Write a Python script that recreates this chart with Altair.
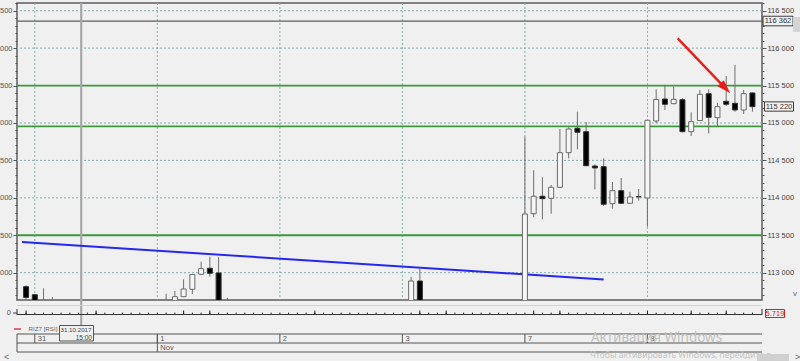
import altair as alt
import pandas as pd

# ---------------- data ----------------
# bar index: 0 = first hourly bar of 31 Oct, 14 bars per trading day
bar_idx = [-1, 0, 1, 2, 15, 16, 17, 18, 19, 20, 21, 22, 43, 44,
           56, 57, 58, 59, 60, 61, 62, 63, 64, 65, 66, 67, 68, 69,
           70, 71, 72, 73, 74, 75, 76, 77, 78, 79, 80, 81, 82]
opens = [112813, 112706, 112590, 112590, 112580, 112590, 112679, 112778, 112979, 113059, 112996, 112600, 112560, 112889,
         112560, 113788, 114021, 113994, 114141, 114603, 114929, 114884, 114425, 114416, 113922, 114096, 113927, 114015,
         113998, 115027, 115320, 115258, 115311, 114884, 115033, 115391, 115071, 115290, 115263, 115174, 115401]
highs = [112830, 112715, 112792, 112675, 112719, 112756, 112912, 112980, 113147, 113214, 113206, 112666, 112943, 113067,
         114817, 114368, 114274, 114172, 114920, 114942, 115151, 115013, 114448, 114528, 114212, 114265, 114082, 114118,
         115040, 115450, 115498, 115487, 115330, 115143, 115441, 115450, 115271, 115628, 115775, 115441, 115405]
lows = [112500, 112500, 112500, 112500, 112500, 112500, 112675, 112715, 112965, 112947, 112450, 112500, 112500, 112500,
        112500, 113740, 113713, 113788, 114130, 114528, 114648, 114425, 114114, 113891, 113855, 113920, 113922, 113962,
        113615, 114996, 115174, 115250, 114875, 114826, 115028, 114862, 114950, 115227, 115151, 115120, 115151]
closes = [112669, 112550, 112570, 112600, 112600, 112679, 112782, 112976, 113053, 112992, 112500, 112580, 112889, 112560,
          113784, 114021, 113989, 114141, 114603, 114920, 114876, 114429, 114399, 113914, 114096, 113927, 114011, 114015,
          115036, 115314, 115250, 115316, 114884, 115017, 115383, 115076, 115218, 115250, 115174, 115391, 115218]

grid_prices = [113000, 113500, 114000, 114500, 115000, 115500, 116000, 116500]
tick_prices = list(range(112700, 116601, 100))
day_idx = [0, 14, 28, 42, 56, 70]
day_labels = ["31", "1", "2", "3", "7", "8"]
month_idx = [14]
month_labels = ["Nov"]
green_levels = [115500, 114956, 113500]
dark_level = [116362]
dark_label = ["116 362"]
last_price = [115220]
last_label = ["115 220"]
trend_idx = [-1.465, 65.0]
trend_price = [113410, 112909]
arrow_idx = [73.46, 78.92]
arrow_price = [116131, 115463]
crosshair_idx = [5.3]
strip_idx = list(range(-1, 83))
strip_tall = [-1, 7, 17, 20, 32, 44, 47, 57, 60, 70, 75, 79]

X_DOMAIN = [-1.465, 82.52]
Y_DOMAIN = [112635, 116603]
W, H = 745, 297

xs = alt.Scale(domain=X_DOMAIN, nice=False, zero=False)
ys = alt.Scale(domain=Y_DOMAIN, nice=False, zero=False)
FONT = "Liberation Sans"


def X(f):
    return alt.X(f, type="quantitative", scale=xs, axis=None)


def Y(f, axis=None):
    return alt.Y(f, type="quantitative", scale=ys, axis=axis)


candles = pd.DataFrame({"idx": bar_idx, "open": opens, "high": highs, "low": lows, "close": closes})
grid_df = pd.DataFrame({"price": grid_prices})
days_df = pd.DataFrame({"idx": day_idx, "label": day_labels})
month_df = pd.DataFrame({"idx": month_idx, "label": month_labels})
green_df = pd.DataFrame({"price": green_levels})
dark_df = pd.DataFrame({"price": dark_level, "label": dark_label})
last_df = pd.DataFrame({"price": last_price, "label": last_label})
trend_df = pd.DataFrame({"idx": trend_idx, "price": trend_price})
arrow_df = pd.DataFrame({"idx": arrow_idx, "price": arrow_price})
head_df = pd.DataFrame({"idx": arrow_idx[-1:], "price": arrow_price[-1:]})
cross_df = pd.DataFrame({"idx": crosshair_idx})
strip_df = pd.DataFrame({"idx": strip_idx})
strip_tall_df = pd.DataFrame({"idx": strip_tall})
one = pd.DataFrame({"a": [0]})

GRID_C = "#80aeae"

left_axis = alt.Axis(
    orient="left", values=tick_prices, domain=False, grid=False, ticks=True,
    tickColor="#555", tickSize={"condition": {"test": "datum.value % 500 === 0", "value": 4}, "value": 2},
    labelExpr="datum.value % 500 === 0 ? slice(format(datum.value, 'd'), -3) : ''",
    labelFont=FONT, labelFontSize=7.5, labelColor="#555", labelPadding=1,
    labelOverlap=False, labelFlush=False, title=None)
right_axis = alt.Axis(
    orient="right", values=tick_prices, domain=False, grid=False, ticks=True,
    tickColor="#555", tickSize={"condition": {"test": "datum.value % 500 === 0", "value": 4}, "value": 2},
    labelExpr="datum.value % 500 === 0 ? replace(format(datum.value, ','), ',', ' ') : ''",
    labelFont=FONT, labelFontSize=7.5, labelColor="#444", labelPadding=1,
    labelOverlap=False, labelFlush=False, title=None)

# ---------------- price panel ----------------
hgrid = alt.Chart(grid_df).mark_rule(color=GRID_C, strokeDash=[2, 2], strokeWidth=1).encode(
    y=Y("price", left_axis))
vgrid = alt.Chart(days_df).mark_rule(color=GRID_C, strokeDash=[2, 2], strokeWidth=1).encode(
    x=X("idx"))
axis_r = alt.Chart(grid_df).mark_rule(opacity=0).encode(y=Y("price", right_axis))
green = alt.Chart(green_df).mark_rule(color="#3b993b", strokeWidth=1.8).encode(y=Y("price"))
dark = alt.Chart(dark_df).mark_rule(color="#5e5e5e", strokeWidth=1.3).encode(y=Y("price"))
cross = alt.Chart(cross_df).mark_rule(color="#a8a8a8", strokeWidth=2.2).encode(
    x=X("idx"), y=alt.value(0), y2=alt.value(323))
trend = alt.Chart(trend_df).mark_line(color="#2626ee", strokeWidth=2, clip=True).encode(
    x=X("idx"), y=Y("price"))
wicks = alt.Chart(candles).mark_rule(color="#6e6e6e", strokeWidth=1, clip=True).encode(
    x=X("idx"), y=Y("low"), y2="high")
bodies = alt.Chart(candles).mark_bar(size=5, strokeWidth=1, clip=True).encode(
    x=X("idx"), y=Y("open"), y2="close",
    fill=alt.condition("datum.close <= datum.open", alt.value("#000000"), alt.value("#f6f6f6")),
    stroke=alt.condition("datum.close <= datum.open", alt.value("#333333"), alt.value("#6a6a6a")))
arrow_line = alt.Chart(arrow_df).mark_line(color="#e3201b", strokeWidth=2.4).encode(
    x=X("idx"), y=Y("price"))
arrow_head = alt.Chart(head_df).mark_point(
    shape="M0,-1L0.62,1L-0.62,1Z", size=196, angle=136, filled=True,
    fill="#e3201b", opacity=1, strokeWidth=0).encode(x=X("idx"), y=Y("price"))

BOX = "M-1,-0.32L1,-0.32L1,0.32L-1,0.32Z"
dark_box = alt.Chart(dark_df).mark_point(
    shape=BOX, size=900, filled=True, fill="#f0f0f0", stroke="#3c3c3c", strokeWidth=1, opacity=1).encode(
    x=alt.value(761), y=Y("price"))
dark_txt = alt.Chart(dark_df).mark_text(font=FONT, fontSize=7.5, color="#333").encode(
    x=alt.value(761), y=Y("price"), text="label")
last_box = alt.Chart(last_df).mark_point(
    shape=BOX, size=841, filled=True, fill="#f0f0f0", stroke="#3c3c3c", strokeWidth=1, opacity=1).encode(
    x=alt.value(762), y=Y("price"))
last_txt = alt.Chart(last_df).mark_text(font=FONT, fontSize=7.5, color="#333").encode(
    x=alt.value(762), y=Y("price"), text="label")


# ---------------- chrome below the price panel ----------------
def prule(x, x2, y, y2, color="#444", width=1):
    return alt.Chart(one).mark_rule(color=color, strokeWidth=width).encode(
        x=alt.value(x), x2=alt.value(x2), y=alt.value(y), y2=alt.value(y2))


def txt(text, x, y, size=7.5, color="#555", align="left", font=FONT):
    return alt.Chart(one).mark_text(text=text, font=font, fontSize=size, color=color,
                                    align=align, baseline="middle").encode(
        x=alt.value(x), y=alt.value(y))


strip_top = prule(0, W, 302.5, 302.5, color="#d2d2d2")
strip_base = prule(0, W, 311.5, 311.5, color="#333")
strip_l = prule(0, 0, 306, 312, color="#333")
strip_r = prule(W, W, 306, 312, color="#333")
strip_ticks = alt.Chart(strip_df).mark_rule(color="#333", strokeWidth=1).encode(
    x=X("idx"), y=alt.value(309.5), y2=alt.value(311.5))
strip_ticks2 = alt.Chart(strip_tall_df).mark_rule(color="#222", strokeWidth=1).encode(
    x=X("idx"), y=alt.value(307.5), y2=alt.value(311.5))
zero_lbl = txt("0", -6, 309.5, align="right")
zero_tick = prule(-4, 0, 310, 310, color="#444")
rsi_box = alt.Chart(one).mark_rect(fill="#f0f0f0", stroke="#d02020", strokeWidth=1).encode(
    x=alt.value(748.5), x2=alt.value(767.5), y=alt.value(306.5), y2=alt.value(314.5))
rsi_txt = txt("5.719", 758, 310.5, color="#e02020", align="center")

legend_dash = prule(-3, 4, 326, 326, color="#e04040", width=1.5)
legend_txt = txt("RIZ7 [RSI]", 11.5, 326, size=6.2, color="#666")

row_top = prule(0, W, 331, 331, color="#555")
row_mid = prule(0, W, 340, 340, color="#555")
row_bot = prule(0, W, 349, 349, color="#555")
row_left = prule(0, 0, 331, 349, color="#555")
day_sep = alt.Chart(days_df).mark_rule(color="#555").encode(
    x=X("idx"), y=alt.value(331), y2=alt.value(340))
month_sep = alt.Chart(month_df).mark_rule(color="#555").encode(
    x=X("idx"), y=alt.value(331), y2=alt.value(349))
day_txt = alt.Chart(days_df).mark_text(font=FONT, fontSize=7.5, color="#555", align="left",
                                       baseline="middle", dx=3).encode(
    x=X("idx"), y=alt.value(335.8), text="label")
month_txt = alt.Chart(month_df).mark_text(font=FONT, fontSize=7.5, color="#555", align="left",
                                          baseline="middle", dx=3).encode(
    x=X("idx"), y=alt.value(344.8), text="label")

date_box = alt.Chart(one).mark_rect(fill="#f0f0f0", stroke="#555", strokeWidth=1).encode(
    x=alt.value(42.5), x2=alt.value(76.5), y=alt.value(322.5), y2=alt.value(338))
date_txt1 = txt("31.10.2017", 43.5, 326.5, size=6.2, color="#444")
date_txt2 = txt("15:00", 75, 334.5, size=6.5, color="#444", align="right")

wm1 = txt("Активация Windows", 574, 335, size=13.5, color="#c2c2c2", font="Noto Sans")
wm2 = txt("Чтобы активировать Windows, перейдите в", 573, 352, size=8.6, color="#c6c6c6", font="Noto Sans")

scroll_thumb = alt.Chart(one).mark_rect(fill="#d0d0d0").encode(
    x=alt.value(740), x2=alt.value(772), y=alt.value(351), y2=alt.value(358))
scroll_l = txt("<", -13, 353.5, size=9, color="#666")
scroll_r = txt(">", 778, 353.5, size=9, color="#666")
vscroll_thumb = alt.Chart(one).mark_rect(fill="#d4d4d4").encode(
    x=alt.value(776), x2=alt.value(783), y=alt.value(14), y2=alt.value(29))
vscroll_dn = txt("v", 776, 291, size=8, color="#666")

chart = alt.layer(
    hgrid, vgrid, axis_r, green, dark, cross, trend, wicks, bodies,
    arrow_line, arrow_head, dark_box, dark_txt, last_box, last_txt,
    strip_top, strip_base, strip_l, strip_r, strip_ticks, strip_ticks2, zero_lbl, zero_tick,
    rsi_box, rsi_txt, legend_dash, legend_txt,
    row_top, row_mid, row_bot, row_left, day_sep, month_sep, day_txt, month_txt,
    date_box, date_txt1, date_txt2, wm1, wm2,
    scroll_thumb, scroll_l, scroll_r, vscroll_thumb, vscroll_dn,
).resolve_axis(y="independent").properties(
    width=W, height=H, background="#f0f0f0",
    padding={"left": 17, "top": 3, "right": 38, "bottom": 61},
    autosize=alt.AutoSizeParams(type="none"),
).configure_view(stroke="#5c5c5c", strokeWidth=1.5)

chart.save("out.html", embed_options={"renderer": "svg", "actions": False})
